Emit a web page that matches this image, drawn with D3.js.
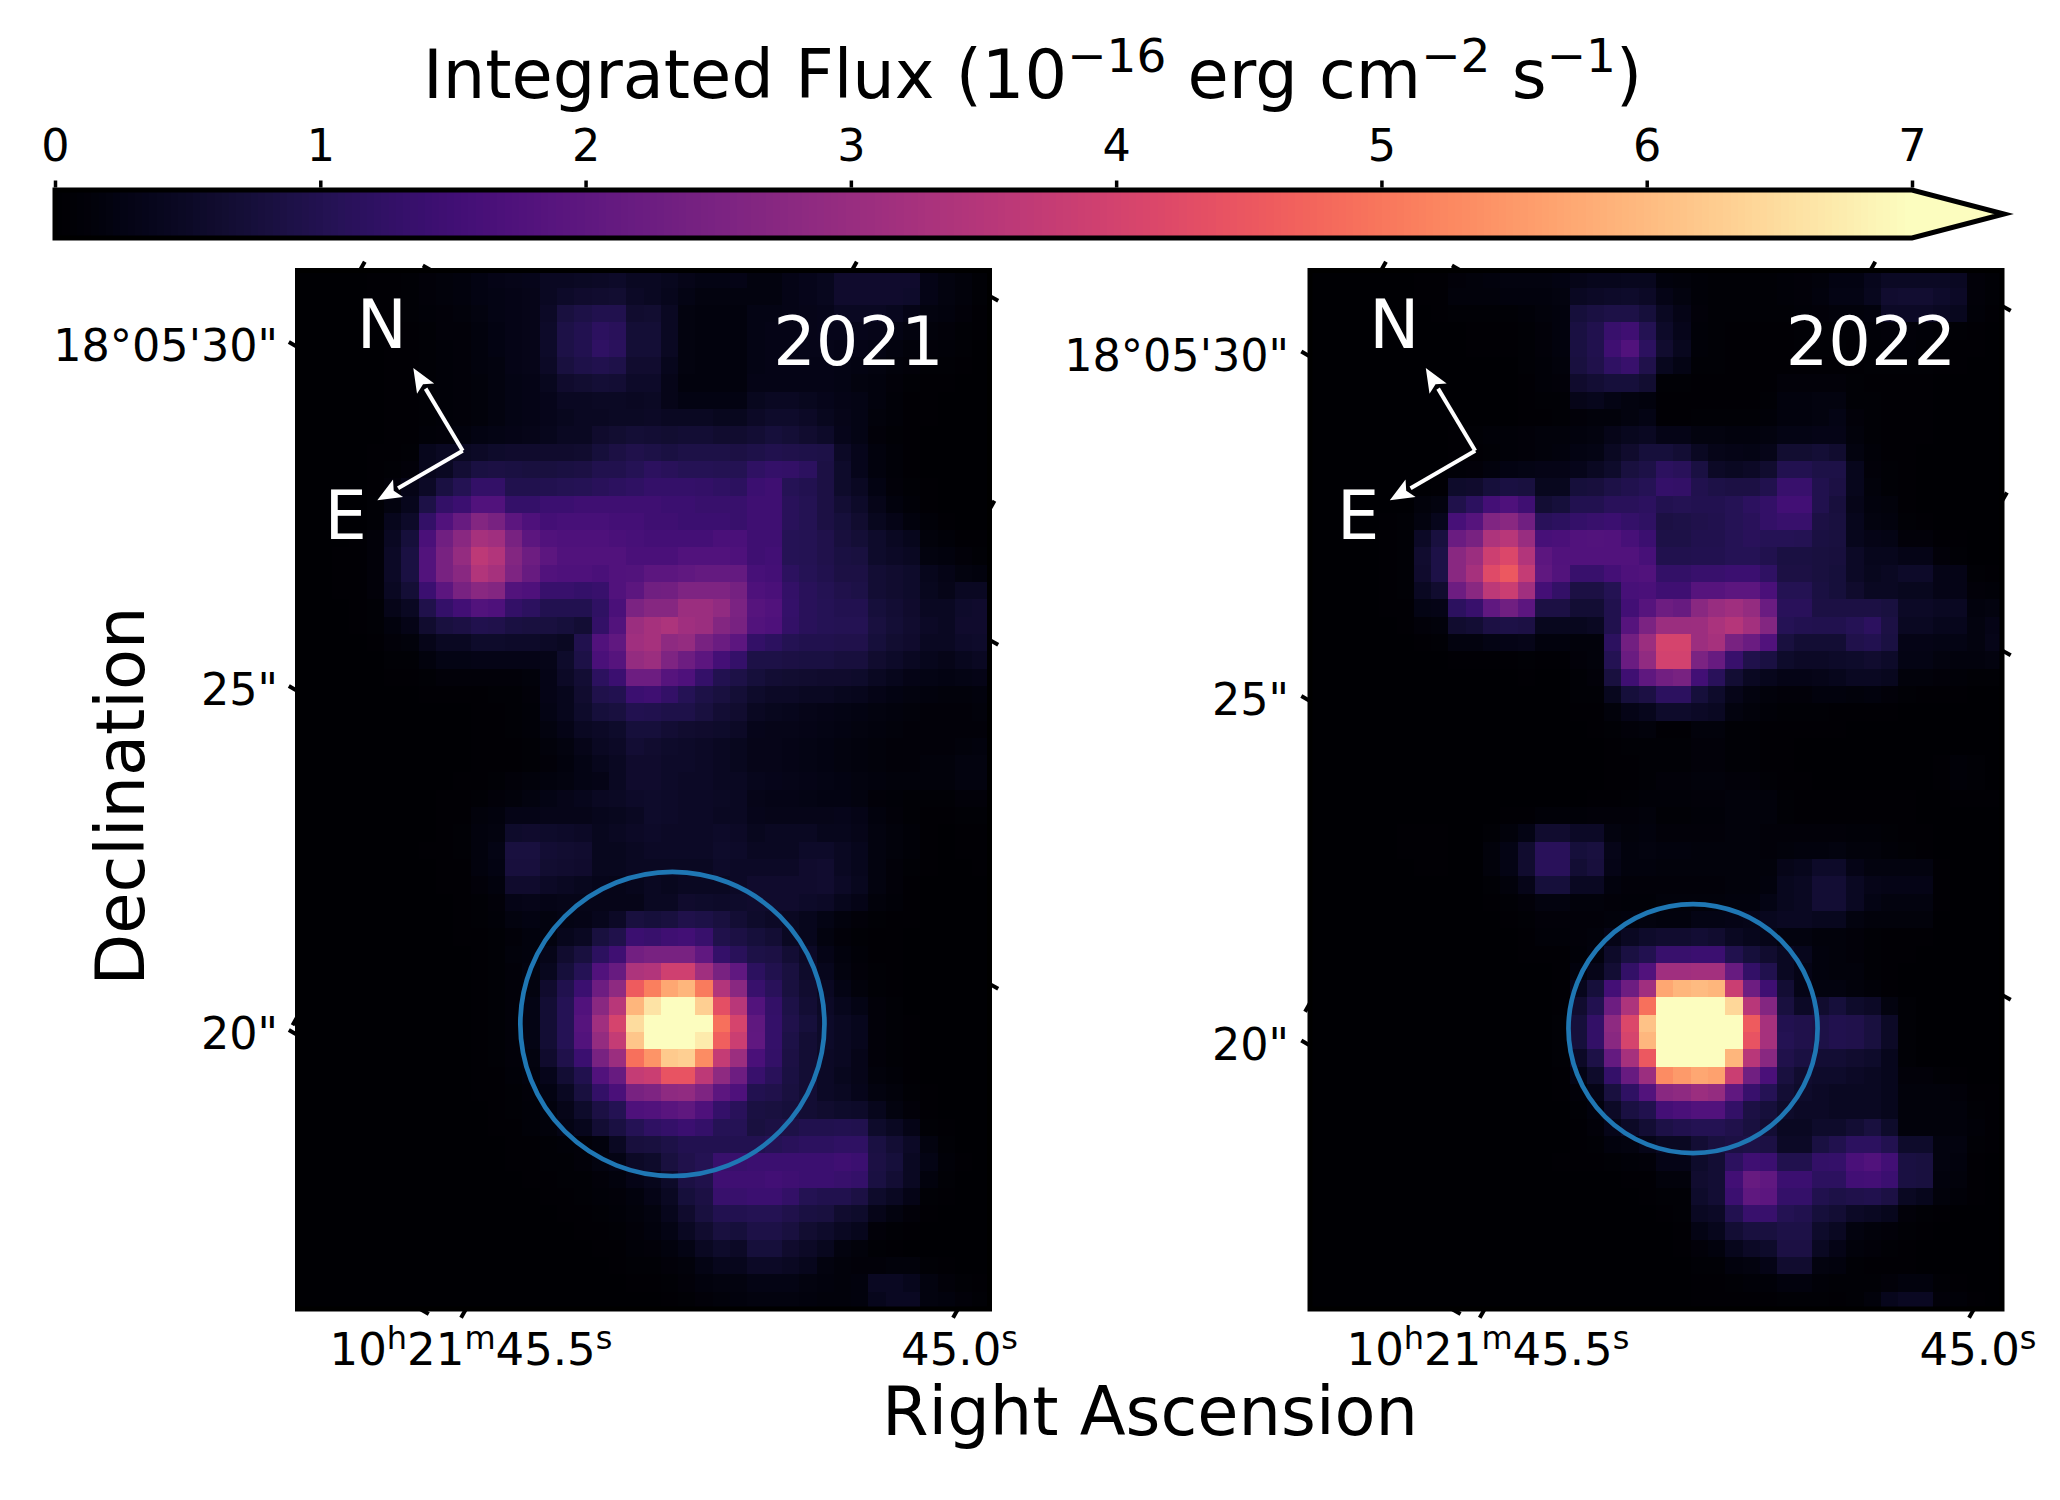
<!DOCTYPE html>
<html>
<head>
<meta charset="utf-8">
<script src="https://d3js.org/d3.v7.min.js"></script>
<style>
	body { margin: 0; background: #fff; }
	text { font-family: "DejaVu Sans"; fill: #000; }
</style>
</head>
<body>
<script>
// flux, in units of 0.01 x 10^-16 erg cm^-2 s^-1 (rows top to bottom)
var flux2021 = [
[0,0,0,1,2,3,4,8,10,12,16,20,22,24,30,32,34,36,38,30,30,28,22,18,18,20,15,15,20,24,28,42,42,42,42,42,20,15,10,5],
[0,0,0,1,2,3,4,8,10,12,16,18,20,22,30,38,42,44,46,36,30,25,18,15,15,15,15,15,20,24,28,42,42,42,42,40,20,15,10,5],
[0,0,0,1,2,3,4,6,8,10,14,18,20,22,36,60,75,85,85,45,48,30,15,12,12,12,18,18,20,22,24,30,30,30,28,20,15,12,8,3],
[0,0,0,0,1,2,3,5,8,8,12,16,20,22,38,72,90,110,105,52,52,30,14,12,12,12,18,20,20,22,24,24,24,22,18,14,10,8,5,2],
[0,0,0,0,1,2,3,5,7,8,12,16,20,22,38,72,92,115,108,52,52,30,14,12,12,12,18,20,20,22,22,20,20,18,14,10,8,6,4,1],
[0,0,0,0,1,2,3,5,7,8,12,15,20,22,35,60,78,85,78,45,45,25,14,12,12,12,18,20,20,20,20,18,16,14,10,8,5,4,2,1],
[0,0,0,0,1,2,3,5,6,8,10,14,18,20,28,42,48,52,50,38,38,22,12,12,12,12,20,20,20,20,20,18,14,12,8,5,3,2,1,0],
[0,0,0,0,1,2,3,5,6,8,10,14,18,20,24,30,32,34,34,30,34,22,16,16,16,16,28,32,32,28,24,20,18,12,6,3,2,1,1,0],
[0,0,0,0,1,2,3,5,7,8,10,14,18,20,24,28,30,32,34,34,36,32,32,32,28,28,36,40,40,36,28,22,18,10,6,3,2,1,0,0],
[0,0,0,0,1,2,3,6,8,12,16,18,20,22,26,30,32,42,46,52,50,48,50,50,45,45,50,55,52,45,38,24,18,8,5,3,1,0,0,0],
[0,0,0,0,2,3,4,25,30,30,35,40,42,42,42,42,45,55,70,80,75,65,72,72,72,70,78,88,82,78,72,35,24,12,6,3,1,0,0,0],
[0,0,0,0,2,5,8,25,30,50,65,70,65,60,60,65,70,85,85,100,110,105,100,100,95,95,115,125,120,110,70,40,24,12,6,3,1,0,0,0],
[0,0,0,1,3,8,20,35,65,95,120,120,85,85,90,95,100,105,110,115,125,125,125,120,115,110,135,140,100,90,68,40,30,16,8,4,2,0,0,0],
[0,0,0,1,5,15,25,75,120,135,170,170,125,125,135,135,140,140,140,140,140,135,135,130,130,130,140,142,105,95,70,50,38,22,12,6,3,1,0,0],
[0,0,0,1,5,25,38,120,170,210,260,240,190,165,150,155,155,155,150,150,140,140,135,135,135,130,140,142,105,95,70,55,45,28,20,12,6,3,1,1],
[0,0,0,2,8,32,55,160,225,270,320,310,240,190,170,165,165,165,160,155,150,150,150,150,160,160,140,142,100,95,80,58,52,40,30,25,10,6,3,2],
[0,0,2,3,8,35,65,175,240,290,360,340,260,220,190,170,170,170,170,160,160,160,170,170,170,165,140,145,100,95,80,65,60,40,35,30,15,12,8,5],
[0,0,2,3,8,35,65,175,240,270,340,320,250,210,170,165,165,160,170,175,190,190,200,205,205,205,155,150,110,100,85,70,68,50,45,40,25,20,15,12],
[0,0,2,3,8,30,52,135,190,240,270,260,175,165,130,130,125,130,170,190,225,230,250,250,250,235,165,160,120,105,95,80,75,50,45,40,28,22,30,30],
[0,0,1,2,5,22,32,80,125,145,175,165,120,110,90,90,90,115,160,245,265,265,300,300,285,245,180,170,125,105,100,90,90,55,50,42,32,30,40,42],
[0,0,1,2,4,12,20,45,62,68,85,80,65,62,60,55,50,120,175,300,320,330,310,300,260,240,175,165,120,105,100,95,95,60,52,45,35,32,42,42],
[0,0,0,1,2,8,10,22,30,32,40,40,38,38,35,30,85,170,200,310,320,280,290,240,215,190,120,110,95,88,85,80,80,55,48,42,32,30,38,40],
[0,0,0,0,1,5,5,12,18,18,20,20,20,20,22,40,75,160,180,290,300,250,220,190,150,125,75,75,68,65,65,58,58,45,38,32,25,22,28,30],
[0,0,0,0,0,2,3,5,8,8,8,8,8,10,20,35,50,110,135,220,220,180,165,125,90,75,55,50,48,45,42,42,40,30,25,20,18,16,18,20],
[0,0,0,0,0,1,1,2,3,3,3,4,5,8,20,25,45,80,90,135,140,120,100,75,60,52,40,35,35,32,30,28,25,20,16,14,12,10,10,12],
[0,0,0,0,0,0,0,1,1,1,2,3,4,6,18,25,40,55,60,90,85,78,78,60,50,45,30,28,25,22,20,18,16,14,12,10,8,8,8,10],
[0,0,0,0,0,0,0,0,1,1,2,3,4,6,15,20,30,35,40,55,55,50,45,42,40,35,24,22,22,20,18,16,14,12,10,8,8,8,8,8],
[0,0,0,0,0,0,0,0,1,1,2,2,3,5,10,15,22,30,35,50,45,40,38,35,32,28,22,22,20,18,16,14,12,10,8,8,8,8,10,12],
[0,0,0,0,0,0,0,0,1,1,2,2,3,5,8,12,18,25,30,42,42,38,38,35,32,28,22,22,20,18,16,14,12,10,8,8,10,10,14,14],
[0,0,0,0,0,0,0,0,1,2,3,5,8,10,12,15,18,20,30,42,42,38,36,35,32,30,26,24,22,20,18,16,14,12,10,10,10,10,14,14],
[0,0,0,0,0,0,0,1,2,3,5,8,10,14,18,22,26,30,34,38,40,38,35,35,34,32,22,20,20,18,16,16,14,8,6,5,4,4,8,8],
[0,0,0,0,0,0,0,1,2,3,10,12,20,20,22,22,22,25,28,32,40,38,35,35,32,30,24,22,22,22,22,24,20,12,8,5,3,2,4,5],
[0,0,0,0,1,1,1,1,2,4,12,14,40,42,40,38,35,28,30,35,38,35,35,35,38,36,28,30,30,30,26,25,22,14,10,6,2,1,2,3],
[0,0,0,0,1,1,1,2,2,4,12,18,62,62,50,48,45,28,28,32,35,35,35,35,40,38,30,32,32,38,38,30,25,14,10,6,2,1,2,2],
[0,0,0,0,1,1,1,1,2,3,12,16,58,58,48,45,42,28,28,30,32,32,32,32,38,36,36,36,36,42,44,30,25,14,8,5,2,1,1,2],
[0,0,0,0,0,1,1,1,2,3,8,12,42,42,35,32,28,24,22,26,30,28,30,30,32,35,42,42,42,42,44,35,28,14,8,3,1,1,1,1],
[0,0,0,0,0,0,1,1,1,2,5,8,20,22,20,22,22,22,22,22,30,30,42,40,38,40,42,42,42,38,35,25,20,10,6,2,1,1,0,0],
[0,0,0,0,0,0,0,1,1,2,4,6,14,16,15,18,20,25,35,60,55,60,80,75,60,50,40,35,30,25,18,12,8,5,3,2,1,0,0,0],
[0,0,0,0,0,0,0,0,1,2,3,5,8,12,14,25,30,60,80,135,130,140,145,130,80,70,55,50,32,25,15,8,5,3,2,1,0,0,0,0],
[0,0,0,0,0,0,0,0,1,1,3,5,10,12,22,45,62,110,140,230,240,240,240,200,125,105,75,70,50,35,20,12,6,3,2,1,0,0,0,0],
[0,0,0,0,0,0,0,0,1,1,2,4,8,14,28,55,100,170,210,330,340,390,390,310,240,200,110,85,60,40,25,15,8,4,2,1,0,0,0,0],
[0,0,0,0,0,0,0,0,0,1,2,4,8,14,42,85,135,220,280,455,510,570,590,505,340,270,130,105,60,45,30,18,10,4,3,1,0,0,0,0],
[0,0,0,0,0,0,0,0,0,1,2,4,8,18,50,100,170,270,350,590,660,700,700,630,430,350,175,120,75,50,35,25,18,8,4,1,0,0,0,0],
[0,0,0,0,0,0,0,0,0,1,2,4,8,18,50,100,180,310,400,650,700,700,700,700,490,400,195,125,80,55,38,30,25,8,5,2,0,0,0,0],
[0,0,0,0,0,0,0,0,0,1,2,4,8,18,50,100,175,290,370,615,700,700,700,670,460,380,200,125,75,50,38,30,25,8,4,2,0,0,0,0],
[0,0,0,0,0,0,0,0,0,1,2,4,8,15,42,80,135,240,300,490,540,620,630,530,370,300,160,120,70,50,35,30,22,8,4,2,1,0,0,0],
[0,0,0,0,0,0,0,0,0,1,2,3,6,12,24,50,85,170,210,370,380,440,440,360,280,220,130,105,65,50,35,28,22,10,6,3,1,0,0,0],
[0,0,0,0,0,0,0,0,0,1,2,3,4,8,16,30,60,120,160,240,250,280,285,250,190,165,90,80,60,50,35,30,24,14,10,5,2,0,0,0],
[0,0,0,0,0,0,0,0,0,1,1,2,4,7,12,22,40,70,95,165,170,185,195,165,125,105,65,62,55,50,45,40,38,25,15,8,3,1,0,0],
[0,0,0,0,0,0,0,0,0,1,1,2,3,6,10,18,25,50,65,100,115,125,135,125,100,100,62,70,75,85,85,90,85,40,30,20,5,2,0,0],
[0,0,0,0,0,0,0,0,0,0,1,1,2,3,4,6,8,12,30,58,62,72,90,90,90,90,90,100,105,110,110,115,115,65,50,35,15,5,1,0],
[0,0,0,0,0,0,0,0,0,0,1,1,2,3,4,5,8,14,18,35,40,60,80,95,130,130,135,135,135,135,135,140,135,70,55,30,18,6,2,0],
[0,0,0,0,0,0,0,0,0,0,0,1,1,2,3,4,5,8,12,20,25,38,70,80,140,140,140,145,140,135,135,130,125,65,50,30,12,5,1,0],
[0,0,0,0,0,0,0,0,0,0,0,0,1,1,2,3,4,6,9,12,20,30,55,70,130,130,135,135,120,95,85,85,70,40,30,20,5,2,0,0],
[0,0,0,0,0,0,0,0,0,0,0,0,0,1,1,2,3,5,7,10,15,25,42,60,90,90,95,95,80,65,60,45,40,22,15,8,3,1,0,0],
[0,0,0,0,0,0,0,0,0,0,0,0,0,0,1,1,2,3,5,8,12,18,30,45,60,55,75,75,60,48,40,30,25,8,5,3,1,0,0,0],
[0,0,0,0,0,0,0,0,0,0,0,0,0,0,0,1,1,2,3,6,8,12,18,30,40,35,55,55,42,35,28,15,10,5,3,1,1,0,0,0],
[0,0,0,0,0,0,0,0,0,0,0,0,0,0,0,0,1,1,2,4,5,8,10,18,25,25,35,35,32,25,15,10,8,8,10,10,5,2,1,0],
[0,0,0,0,0,0,0,0,0,0,0,0,0,0,0,0,0,1,1,2,3,5,8,12,15,15,18,18,18,15,12,10,12,30,30,25,15,8,4,2],
[0,0,0,0,0,0,0,0,0,0,0,0,0,0,0,0,0,0,1,1,1,3,5,8,10,12,14,14,14,12,10,10,12,25,32,32,15,12,8,5]
];
var flux2022 = [
[0,0,0,0,0,1,2,3,8,10,12,14,15,15,16,22,25,25,28,28,12,10,6,5,5,4,4,6,8,10,16,16,25,34,34,34,34,30,8,4],
[0,0,0,0,0,1,2,3,10,10,10,12,12,12,14,30,35,38,40,35,20,15,6,5,5,4,4,6,8,12,18,18,28,45,48,48,40,35,8,4],
[0,0,0,0,0,0,1,2,5,5,5,5,7,10,12,55,65,72,72,55,32,20,8,5,5,4,4,5,6,8,10,10,12,36,36,36,30,28,6,3],
[0,0,0,0,0,0,0,0,1,2,2,2,5,8,12,65,85,130,140,95,38,24,6,5,2,2,2,2,4,4,4,4,6,8,8,6,5,4,2,1],
[0,0,0,0,0,0,0,0,1,2,2,2,5,8,12,65,85,140,170,110,45,28,6,4,2,2,2,2,4,4,4,3,5,6,6,5,4,3,2,1],
[0,0,0,0,0,0,0,0,0,1,1,1,4,7,10,62,80,115,130,80,28,18,5,4,2,2,2,2,3,3,3,3,4,4,4,4,3,2,1,1],
[0,0,0,0,0,0,0,0,0,1,1,1,3,6,8,42,50,55,55,48,5,5,3,3,3,3,3,8,8,8,8,4,3,3,2,2,1,1,0,0],
[0,0,0,0,0,0,0,0,0,1,1,1,2,4,5,22,25,18,15,12,2,2,2,2,2,3,5,12,12,14,14,5,4,3,2,2,1,1,0,0],
[0,0,0,0,0,0,0,0,0,0,1,1,2,3,5,8,10,10,15,18,3,3,5,5,5,5,7,12,12,15,18,8,4,3,2,2,1,1,0,0],
[0,0,0,0,0,0,0,0,2,4,6,6,8,10,10,12,15,22,28,30,20,20,14,14,12,12,14,18,18,20,20,10,5,3,2,2,1,1,0,0],
[0,0,0,0,0,0,0,0,2,3,5,6,8,10,12,16,18,32,42,55,55,50,30,22,20,18,22,48,48,52,45,15,6,3,2,1,0,0,0,0],
[0,0,0,0,0,0,0,1,6,8,12,16,18,20,20,24,30,40,60,75,110,105,65,35,32,35,45,90,90,75,75,25,8,5,2,1,0,0,0,0],
[0,0,0,0,0,0,0,2,40,42,55,65,60,28,28,55,58,72,88,100,125,120,85,75,70,70,85,130,130,85,70,25,10,5,2,1,0,0,0,0],
[0,0,0,0,0,0,10,15,80,110,150,165,140,50,55,90,90,105,105,110,90,95,90,90,100,110,120,145,145,85,58,22,12,10,3,1,0,0,0,0],
[0,0,0,0,2,4,15,25,155,180,255,270,225,105,110,125,130,135,125,115,70,72,80,85,100,105,120,130,130,70,60,25,15,12,4,2,0,0,0,0],
[0,0,0,1,2,4,35,60,215,240,330,350,295,155,160,170,175,170,155,135,72,72,85,85,100,105,100,100,95,65,60,25,20,18,8,8,3,2,0,0],
[0,0,0,1,3,5,45,75,270,300,385,410,340,190,170,170,170,170,170,155,85,88,90,92,100,100,85,65,65,60,58,35,25,25,20,20,8,5,1,1],
[0,0,1,1,3,5,42,75,270,320,420,450,370,200,175,130,130,150,165,170,120,120,130,130,135,135,115,70,70,60,55,35,28,32,38,38,20,20,5,3],
[0,0,1,1,3,5,30,45,220,270,355,380,310,150,120,70,70,95,155,160,140,140,180,180,190,190,160,95,95,65,55,42,32,30,28,28,20,20,8,6],
[0,0,0,1,2,3,18,20,110,130,200,225,190,70,70,50,50,85,145,180,220,210,270,295,310,290,215,105,105,70,70,68,70,60,35,35,30,30,12,14],
[0,0,0,0,1,2,8,10,45,50,68,75,70,28,28,28,30,85,180,245,300,300,305,325,345,315,260,100,90,85,85,100,110,70,30,30,25,25,15,20],
[0,0,0,0,0,1,2,4,15,14,18,20,22,12,12,10,10,110,230,300,400,400,305,320,240,215,170,60,50,50,50,80,90,65,20,20,18,18,15,22],
[0,0,0,0,0,0,0,1,2,2,3,3,4,2,2,8,10,95,215,285,395,395,245,210,130,80,65,40,35,35,38,40,45,38,18,18,15,12,12,14],
[0,0,0,0,0,0,0,0,1,1,1,1,2,1,1,5,8,60,140,195,230,240,145,105,50,30,25,20,20,22,25,30,32,28,10,10,8,6,4,4],
[0,0,0,0,0,0,0,0,0,0,0,0,0,0,0,4,5,28,55,70,110,110,55,40,22,15,10,8,8,12,12,10,12,8,5,3,2,2,1,1],
[0,0,0,0,1,1,1,1,1,1,1,0,0,0,1,3,3,10,20,25,40,40,35,32,15,10,6,4,4,4,3,3,3,2,1,1,1,0,0,0],
[0,0,0,0,0,0,0,0,0,0,0,0,0,0,0,1,2,5,8,10,3,3,10,10,5,5,3,3,2,2,2,1,0,0,0,0,0,0,0,0],
[0,0,0,0,0,0,0,0,0,0,0,0,0,0,0,0,1,2,4,5,5,5,8,8,5,5,3,3,1,1,1,0,0,0,0,0,0,1,1,0],
[0,0,0,0,0,0,0,0,0,0,0,0,0,0,0,0,1,2,3,5,5,5,8,8,5,5,3,2,1,1,0,0,0,0,1,1,2,6,4,1],
[0,0,0,0,0,0,0,0,0,0,0,0,0,0,0,0,1,2,3,5,8,8,10,10,8,8,5,2,2,1,1,1,1,1,1,1,2,6,4,1],
[0,0,0,0,0,0,0,0,0,0,0,0,0,0,0,1,3,3,5,6,6,6,8,8,10,10,10,5,3,3,3,3,3,2,2,1,1,3,3,3],
[0,0,0,0,0,0,0,0,0,0,1,2,3,6,6,6,8,8,8,10,5,5,7,7,10,10,10,5,3,3,3,3,3,2,2,1,1,1,1,1],
[0,0,0,0,1,2,3,3,1,1,5,10,18,45,45,35,35,15,10,12,8,8,8,8,10,10,8,8,8,8,8,6,6,4,3,2,1,0,0,0],
[0,0,0,0,1,2,3,3,1,1,10,18,45,105,105,55,60,22,12,15,12,12,10,10,10,10,8,10,12,12,14,10,10,6,4,3,1,0,0,0],
[0,0,0,0,0,1,3,3,1,1,10,18,45,105,105,50,58,20,12,12,10,10,10,10,10,10,10,22,25,38,38,20,15,14,14,14,3,0,0,0],
[0,0,0,0,0,0,1,1,0,0,5,10,22,55,55,30,30,12,8,8,8,8,8,8,10,10,12,28,32,50,50,32,22,20,20,20,3,1,0,0],
[0,0,0,0,0,0,0,0,0,0,2,4,8,15,15,10,10,8,6,6,10,10,10,10,12,12,18,28,32,50,50,30,18,15,15,15,2,0,0,0],
[0,0,0,0,0,0,0,0,0,0,1,2,4,8,8,8,8,10,12,15,12,12,18,18,20,22,28,30,32,28,28,14,10,10,10,10,1,0,0,0],
[0,0,0,0,0,0,0,0,0,0,1,1,3,6,6,8,10,20,30,40,45,45,50,45,30,25,22,15,15,10,10,8,5,3,2,2,0,0,0,0],
[0,0,0,0,0,0,0,0,0,0,0,0,3,3,3,6,12,38,65,90,130,130,135,135,85,55,45,30,25,12,10,8,4,3,2,1,0,0,0,0],
[0,0,0,0,0,0,0,0,0,0,0,0,0,1,3,12,22,50,120,170,310,310,315,315,210,120,85,30,20,12,10,10,4,3,1,1,0,0,0,0],
[0,0,0,0,0,0,0,0,0,0,0,0,0,1,3,25,55,150,220,310,570,590,600,590,380,220,140,50,20,15,15,10,6,3,1,0,0,0,0,0],
[0,0,0,0,0,0,0,0,0,0,0,0,0,1,3,45,90,220,330,490,700,700,700,700,640,350,260,60,35,45,55,40,35,15,5,0,0,0,0,0],
[0,0,0,0,0,0,0,0,0,0,1,1,1,1,4,55,120,280,410,610,700,700,700,700,700,455,320,90,80,75,85,80,60,35,5,0,0,0,0,0],
[0,0,0,0,0,0,0,0,0,0,1,1,1,1,4,55,120,270,400,595,700,700,700,700,700,440,320,95,80,75,85,80,60,35,5,0,0,0,0,0],
[0,0,0,0,0,0,0,0,0,0,0,0,0,1,4,35,75,205,320,450,700,700,700,700,590,350,270,80,65,50,50,45,40,25,5,0,0,0,0,0],
[0,0,0,0,0,0,0,0,0,0,0,0,0,1,3,18,40,125,210,300,530,550,570,560,380,225,160,60,45,40,40,35,30,25,8,8,5,3,1,0],
[0,0,0,0,0,0,0,0,0,0,0,0,0,1,2,8,20,60,115,175,270,280,300,290,200,130,100,50,40,35,30,30,30,25,10,10,10,8,3,2],
[0,0,0,0,0,0,0,0,0,0,0,0,0,0,1,5,12,35,65,85,150,160,170,170,120,70,55,40,35,35,30,30,30,25,10,10,10,10,5,3],
[0,0,0,0,0,0,0,0,0,0,0,0,0,0,1,3,8,22,35,50,75,85,95,95,80,60,50,30,30,40,40,50,60,40,10,10,10,10,6,2],
[0,0,0,0,0,0,0,0,0,0,0,0,0,0,1,3,5,12,15,22,30,30,50,60,70,75,70,35,35,65,85,110,110,90,40,40,15,15,5,2],
[0,0,0,0,0,0,0,0,0,0,0,0,0,1,2,2,3,4,6,8,20,20,40,50,110,140,135,85,85,120,125,160,170,145,65,60,15,12,3,1],
[0,0,0,0,0,0,0,0,0,0,0,0,0,0,1,1,1,1,2,2,10,10,45,50,145,210,200,135,135,110,110,145,150,135,65,60,12,10,3,1],
[0,0,0,0,0,0,0,0,0,0,0,0,0,0,0,0,0,1,1,2,5,5,40,50,135,195,190,125,125,85,75,80,85,70,30,25,10,6,2,1],
[0,0,0,0,0,0,0,0,0,0,0,0,0,0,0,0,0,0,1,1,3,5,30,35,90,130,130,95,85,55,50,35,32,25,8,5,3,1,0,0],
[0,0,0,0,0,0,0,0,0,0,0,0,0,0,0,0,0,0,0,1,1,3,18,25,50,60,60,75,75,40,30,15,10,8,4,2,1,0,0,0],
[0,0,0,0,0,0,0,0,0,0,0,0,0,0,0,0,0,0,0,0,0,2,8,12,25,35,40,70,70,32,20,10,8,5,3,1,0,0,0,0],
[0,0,0,0,0,0,0,0,0,0,0,0,0,0,0,0,0,0,0,0,0,1,4,5,12,15,20,45,45,15,12,5,3,3,2,1,0,0,0,0],
[0,0,0,0,0,0,0,0,0,0,0,0,0,0,0,0,0,0,0,0,0,0,2,2,4,6,6,12,12,6,5,4,4,8,12,12,5,3,1,0],
[0,0,0,0,0,0,0,0,0,0,0,0,0,0,0,0,0,0,0,0,0,1,2,2,3,3,3,5,5,4,3,4,10,25,30,30,8,6,2,0]
];

var colorbarTicks = [0, 1, 2, 3, 4, 5, 6, 7];
var decTicks = [30, 25, 20, 15];
var raTicks = [45.5, 45.0, 44.5];
var decLabels = { 30: "18°05'30\"", 25: "25\"", 20: "20\"" };
var years = ["2021", "2022"];
var apertureCol = [21.67, 22.14];
var apertureRow = [43.53, 43.8];
var apertureRadius = [8.79, 7.2];

var width = 2060;
var height = 1500;
var slope = 0.571; // tan of the field rotation

var svg = d3.select("body").append("svg")
	.attr("width", width)
	.attr("height", height);

var color = d3.scaleSequential(d3.interpolateMagma).domain([0, 700]).clamp(true);
// my readings of the faintest cells ran dark against the colorbar, this lifts them
var reading = d3.scaleLinear().domain([0, 10, 30, 60, 100, 700]).range([0, 14, 44, 80, 106, 700]);

// colorbar
var barX = d3.scaleLinear().domain([0, 7]).range([55, 1912]);
var barTop = 190, barBottom = 238, barTip = 2004;

var bar = svg.append("g");
var steps = d3.range(0, 7, 7 / 256);
bar.selectAll("rect")
	.data(steps)
	.enter().append("rect")
	.attr("x", function(d) { return barX(d); })
	.attr("y", barTop)
	.attr("width", barX(7 / 256) - barX(0) + 1)
	.attr("height", barBottom - barTop)
	.attr("shape-rendering", "crispEdges")
	.attr("fill", function(d) { return color(d * 100); });
bar.append("path")
	.attr("d", "M" + barX(7) + "," + barTop + "L" + barTip + "," + (barTop + barBottom) / 2 + "L" + barX(7) + "," + barBottom + "Z")
	.attr("fill", color(700));
bar.append("path")
	.attr("d", "M" + barX(0) + "," + barTop + "H" + barX(7) + "L" + barTip + "," + (barTop + barBottom) / 2 + "L" + barX(7) + "," + barBottom + "H" + barX(0) + "Z")
	.attr("fill", "none")
	.attr("stroke", "#000")
	.attr("stroke-width", 5)
	.attr("stroke-miterlimit", 10);

var barAxis = svg.append("g")
	.attr("transform", "translate(0,187.5)")
	.call(d3.axisTop(barX).tickValues(colorbarTicks).tickSize(7).tickPadding(19.5).tickFormat(d3.format("d")));
barAxis.select(".domain").remove();
barAxis.selectAll("line").attr("stroke", "#000").attr("stroke-width", 3.5);
barAxis.selectAll("text").style("font-family", "DejaVu Sans").style("font-size", "44.5px");

// colorbar title with real superscripts
var title = svg.append("text").attr("x", 423).attr("y", 98).style("font-size", "67px");
title.append("tspan").text("Integrated Flux (10");
title.append("tspan").attr("dy", -26).style("font-size", "47px").text("\u221216");
title.append("tspan").attr("dy", 26).text(" erg cm");
title.append("tspan").attr("dy", -26).style("font-size", "47px").text("\u22122");
title.append("tspan").attr("dy", 26).text(" s");
title.append("tspan").attr("dy", -26).style("font-size", "47px").text("\u22121");
title.append("tspan").attr("dy", 26).text(")");

function drawPanel(grid, i, left, decRange, raRange, raSlope, decEnd, raCentre45, raCentre0) {
	var top = 270.5, bottom = 1309, right = left + 692;
	var x = d3.scaleLinear().domain([0, 40]).range([left, right]);
	var y = d3.scaleLinear().domain([0, 60]).range([top, bottom]);
	var g = svg.append("g");

	var rows = g.selectAll("g.row")
		.data(grid)
		.enter().append("g")
		.attr("class", "row");
	rows.selectAll("rect")
		.data(function(d, r) { return d.map(function(v, c) { return { v: v, c: c, r: r }; }); })
		.enter().append("rect")
		.attr("x", function(d) { return x(d.c); })
		.attr("y", function(d) { return y(d.r); })
		.attr("width", x(1) - x(0) + 1)
		.attr("height", y(1) - y(0) + 1)
		.attr("shape-rendering", "crispEdges")
		.attr("fill", function(d) { return color(reading(d.v)); });

	// aperture
	g.append("circle")
		.attr("cx", x(apertureCol[i]))
		.attr("cy", y(apertureRow[i]))
		.attr("r", x(apertureRadius[i]) - x(0))
		.attr("fill", "none")
		.attr("stroke", "#1f77b4")
		.attr("stroke-width", 4.7);

	g.append("rect")
		.attr("x", left).attr("y", top)
		.attr("width", right - left).attr("height", bottom - top)
		.attr("fill", "none").attr("stroke", "#000").attr("stroke-width", 5);

	// sky grid is rotated, so ticks sit where its lines cross the frame
	var decY = d3.scaleLinear().domain([30, 25]).range(decRange);
	var raX = d3.scaleLinear().domain([45.5, 45.0]).range(raRange);
	var cosT = Math.cos(Math.atan(slope)), sinT = Math.sin(Math.atan(slope));
	var ticks = [];

	function addTick(px, py, dx, dy, ox, oy) {
		// flip the direction so the tick points out of the frame
		var s = (dx * ox + dy * oy) < 0 ? -1 : 1;
		ticks.push({ x1: px, y1: py, x2: px + s * dx * 10, y2: py + s * dy * 10 });
	}
	decTicks.forEach(function(d) {
		var yl = decY(d), yr = yl - slope * (right - left);
		if (yl >= top && yl <= bottom) addTick(left, yl, cosT, sinT, -1, 0);
		if (yr >= top && yr <= bottom) addTick(right, yr, cosT, sinT, 1, 0);
		if (yr < top) {
			var xt = left + (yl - top) / slope;
			if (xt >= left && xt <= right) addTick(xt, top, cosT, sinT, 0, -1);
		}
		if (yl > bottom) {
			var xb = left + (yl - bottom) / slope;
			if (xb >= left && xb <= right) addTick(xb, bottom, cosT, sinT, 0, 1);
		}
	});
	raTicks.forEach(function(r) {
		var xb = raX(r), xt = xb - raSlope * (bottom - top);
		if (xb >= left && xb <= right) addTick(xb, bottom, sinT, -cosT, 0, 1);
		if (xt >= left && xt <= right) addTick(xt, top, sinT, -cosT, 0, -1);
		if (xt < left) addTick(left, bottom - (xb - left) / raSlope, sinT, -cosT, -1, 0);
		if (xb > right) addTick(right, bottom - (xb - right) / raSlope, sinT, -cosT, 1, 0);
	});
	g.selectAll("line.tick")
		.data(ticks)
		.enter().append("line")
		.attr("class", "tick")
		.attr("x1", function(d) { return d.x1; })
		.attr("y1", function(d) { return d.y1; })
		.attr("x2", function(d) { return d.x2; })
		.attr("y2", function(d) { return d.y2; })
		.attr("stroke", "#000")
		.attr("stroke-width", 4);

	// Dec labels
	decTicks.slice(0, 3).forEach(function(d) {
		g.append("text")
			.attr("x", decEnd)
			.attr("y", decY(d) + 14)
			.attr("text-anchor", "end")
			.style("font-size", "44.5px")
			.text(decLabels[d]);
	});

	// RA labels
	function sup(t, s) {
		t.append("tspan").attr("dy", -16).style("font-size", "32px").text(s);
	}
	var t1 = g.append("text").attr("x", raCentre45).attr("y", 1365).attr("text-anchor", "middle").style("font-size", "45px");
	t1.append("tspan").text("10");
	sup(t1, "h");
	t1.append("tspan").attr("dy", 16).text("21");
	sup(t1, "m");
	t1.append("tspan").attr("dy", 16).text("45.5");
	sup(t1, "s");
	var t2 = g.append("text").attr("x", raCentre0).attr("y", 1365).attr("text-anchor", "middle").style("font-size", "45px");
	t2.append("tspan").text("45.0");
	sup(t2, "s");

	// compass
	var ox = left + 165.2, oy = 450.7;
	var tips = [[-49.4, -82.7, "N", -81, -102.7], [-85.4, 49.6, "E", -117, 88]];
	tips.forEach(function(p) {
		var len = Math.sqrt(p[0] * p[0] + p[1] * p[1]);
		var ux = p[0] / len, uy = p[1] / len;
		var bx = ox + p[0] - ux * 24, by = oy + p[1] - uy * 24;
		g.append("line")
			.attr("x1", ox).attr("y1", oy).attr("x2", bx).attr("y2", by)
			.attr("stroke", "#fff").attr("stroke-width", 4);
		g.append("path")
			.attr("d", "M" + (ox + p[0]) + "," + (oy + p[1]) +
				"L" + (bx - uy * 10) + "," + (by + ux * 10) +
				"L" + (bx + ux * 5) + "," + (by + uy * 5) +
				"L" + (bx + uy * 10) + "," + (by - ux * 10) + "Z")
			.attr("fill", "#fff");
		g.append("text")
			.attr("x", ox + p[3]).attr("y", oy + p[4])
			.attr("text-anchor", "middle")
			.style("font-size", "67px")
			.style("fill", "#fff")
			.text(p[2]);
	});

	g.append("text")
		.attr("x", left + 561)
		.attr("y", 364.7)
		.attr("text-anchor", "middle")
		.style("font-size", "67px")
		.style("fill", "#fff")
		.text(years[i]);
}

drawPanel(flux2021, 0, 297.5, [347, 691], [466, 958], 0.576, 278, 471, 959.5);
drawPanel(flux2022, 1, 1310, [356.5, 701], [1484.7, 1974], 0.571, 1289, 1488, 1978);

svg.append("text")
	.attr("x", 1150)
	.attr("y", 1435)
	.attr("text-anchor", "middle")
	.style("font-size", "67px")
	.text("Right Ascension");

svg.append("text")
	.attr("transform", "translate(144,796) rotate(-90)")
	.attr("text-anchor", "middle")
	.style("font-size", "67px")
	.text("Declination");
</script>
</body>
</html>
